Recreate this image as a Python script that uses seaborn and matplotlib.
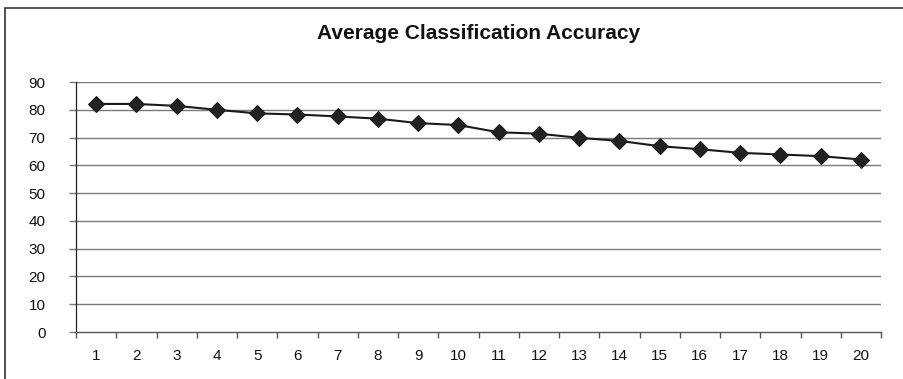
import matplotlib
matplotlib.use("Agg")
import matplotlib.pyplot as plt
import seaborn as sns
import pandas as pd
import numpy as np
from matplotlib.patches import Rectangle

categories = [str(i) for i in range(1, 21)]
accuracy = [82.1, 82.1, 81.4, 80.0, 78.7, 78.3, 77.6, 76.8, 75.2, 74.5,
            71.9, 71.4, 69.9, 68.8, 66.9, 65.8, 64.5, 63.9, 63.3, 62.1]
y_ticks = [0, 10, 20, 30, 40, 50, 60, 70, 80, 90]
title = "Average Classification Accuracy"

sns.set_theme(style="white")
plt.rcParams['font.family'] = ['Liberation Sans', 'DejaVu Sans']

df = pd.DataFrame({"pos": np.arange(1, len(categories) + 1), "acc": accuracy})

fig = plt.figure(figsize=(9.04, 3.79), dpi=100)
ax = fig.add_axes([76/904, 47/379, 805/904, 250/379])

for y in y_ticks[1:]:
    ax.axhline(y, color="#7a7a7a", lw=1.0, zorder=1)

sns.lineplot(data=df, x="pos", y="acc", ax=ax, color="#1a1a1a", lw=1.5,
             marker="D", markersize=8, markeredgecolor="#1a1a1a",
             markerfacecolor="#222222", zorder=3)

ax.set_xlim(0.5, len(categories) + 0.5)
ax.set_ylim(0, 90)
ax.set_yticks(y_ticks)
ax.set_yticklabels([str(v) for v in y_ticks], fontsize=11, color="#111111")
ax.tick_params(axis="y", length=5, width=1.0, color="#7a7a7a", pad=17, left=True)
ax.set_xticks(np.arange(1, len(categories) + 1))
ax.set_xticklabels(categories, fontsize=11, color="#111111")
ax.tick_params(axis="x", which="major", length=0, pad=12)
ax.set_xticks(np.arange(0.5, len(categories) + 1.5, 1), minor=True)
ax.tick_params(axis="x", which="minor", length=4, width=1.0, color="#555555", bottom=True)
ax.set_xlabel("")
ax.set_ylabel("")

for s in ["top", "right"]:
    ax.spines[s].set_visible(False)
ax.spines["left"].set_color("#222222")
ax.spines["left"].set_linewidth(0.9)
ax.spines["bottom"].set_color("#555555")
ax.spines["bottom"].set_linewidth(1.0)

ax.set_title(title, fontsize=15, fontweight="bold", pad=31, color="#111111")

fig.patches.append(Rectangle((5/904, -0.1), 1.1, (379 - 8)/379 + 0.1,
                             transform=fig.transFigure, fill=False,
                             edgecolor="#333333", lw=1.2, zorder=0))

fig.savefig("out.png", dpi=100)
